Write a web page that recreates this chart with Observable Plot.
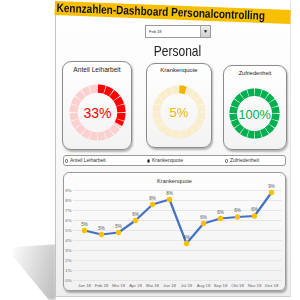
<!DOCTYPE html>
<html><head><meta charset="utf-8">
<script src="https://cdn.jsdelivr.net/npm/d3@7"></script>
<script src="https://cdn.jsdelivr.net/npm/@observablehq/plot@0.6"></script>
<style>
html,body{margin:0;padding:0;width:300px;height:300px;overflow:hidden;background:#fff;font-family:"Liberation Sans",Arial,sans-serif;}
#root{position:relative;width:300px;height:300px;}
.abs{position:absolute;}
#shadow{left:12px;top:244px;width:44px;height:56px;background:linear-gradient(105deg,rgba(235,235,235,0.1),rgba(175,175,175,0.85));clip-path:polygon(2% 6%,100% 0%,100% 100%,84% 100%,2% 22%);filter:blur(1.5px);}
#page{left:55px;top:1px;width:236px;height:296px;background:linear-gradient(to bottom,#ffffff,#f6f6f6 70%,#eeeeee);border-left:1px solid #c4c4c4;border-right:1px solid #e4e4e4;border-bottom:1px solid #cfcfcf;box-sizing:border-box;}
#titlebar{left:55px;top:1px;width:236px;height:13.5px;background:#f8c000;transform:rotate(2.2deg);transform-origin:0 0;overflow:visible;}
#titlebar span{position:absolute;left:2px;top:0px;font-weight:bold;font-size:10px;line-height:13.5px;color:#111;white-space:nowrap;transform:scaleY(1.2);transform-origin:0 50%;}
#dropdown{left:145px;top:25px;width:66px;height:13px;border:1px solid #9a9a9a;background:#fff;box-sizing:border-box;}
#dropdown .val{position:absolute;left:3px;top:3px;font-size:4px;color:#333;}
#dropdown .btn{position:absolute;right:0;top:0;width:9px;height:11px;background:linear-gradient(#eee,#cfcfcf);border-left:1px solid #aaa;font-size:5px;line-height:11px;text-align:center;color:#111;}
#heading{left:120px;width:115px;top:44px;text-align:center;font-size:12px;color:#222;transform:scaleY(1.2);}
.card{border:1px solid #8c8c8c;border-radius:9px;background:linear-gradient(#ffffff,#f3f3f3);box-shadow:1px 1.5px 2px rgba(0,0,0,0.28);box-sizing:border-box;}
.ctitle{text-align:center;color:#222;white-space:nowrap;}
.gsvg{position:absolute;}
#radiobar{left:63px;top:155px;width:223px;height:11px;border:1px solid #9a9a9a;border-radius:3px;background:#fff;box-sizing:border-box;}
.ropt{position:absolute;top:2.2px;font-size:5px;color:#333;white-space:nowrap;line-height:5.5px;}
.ropt i{display:inline-block;width:3.4px;height:3.4px;border:0.6px solid #555;border-radius:50%;vertical-align:middle;margin-right:1.5px;box-sizing:border-box;background:#fff;}
.ropt i.on{background:radial-gradient(#111 45%,#fff 55%);}
#panel{left:63px;top:172px;width:223px;height:119px;border:1px solid #9a9a9a;border-radius:6px;background:linear-gradient(#fdfdfd,#f1f1f1);box-shadow:1px 2px 2px rgba(0,0,0,0.3);box-sizing:border-box;}
#ptitle{left:63px;width:223px;top:178px;text-align:center;font-size:5.6px;color:#333;}
#chart{left:63px;top:183px;}
</style></head>
<body><div id="root"></div>
<script>
// ---- data ----
const dashboardTitle = "Kennzahlen-Dashboard Personalcontrolling";
const selectedMonth = "Feb 18";
const sectionTitle = "Personal";
const gaugeNames = ["Anteil Leiharbeit", "Krankenquote", "Zufriedenheit"];
const gaugeValues = [0.33, 0.05, 1.00];
const radioOptions = ["Anteil Leiharbeit", "Krankenquote", "Zufriedenheit"];
const selectedOption = "Krankenquote";
const chartTitle = "Krankenquote";
const months = ["Jan 18","Feb 18","Mrz 18","Apr 18","Mai 18","Jun 18","Jul 18","Aug 18","Sep 18","Okt 18","Nov 18","Dez 18"];
const krankenquote = [5.0, 4.6, 4.8, 6.0, 7.6, 8.1, 3.7, 5.7, 6.2, 6.35, 6.45, 8.8];
const yTicks = [0,1,2,3,4,5,6,7,8,9];

// ---- layout / styles ----
const gaugeLayout = [
  {card:[62,61,70,89], title:{top:8,size:6.6}, cx:97, cy:112, r:28, t:8.3, fs:14, color:"#ff0000", light:"#fdd0d0"},
  {card:[146,63,66,85], title:{top:7,size:6}, cx:178, cy:111, r:26.5, t:7.8, fs:13, color:"#f2b300", light:"#f9edcc"},
  {card:[223,65,64,85], title:{top:8,size:5.6}, cx:254, cy:113, r:25, t:7.5, fs:12.6, color:"#00b050", light:"#c8ecd6"}
];

const root = document.getElementById("root");
function el(cls, id, css, html){const d=document.createElement("div");d.className=cls;if(id)d.id=id;if(css)Object.assign(d.style,css);if(html!=null)d.innerHTML=html;root.appendChild(d);return d;}

el("abs","shadow");
el("abs","page");
const tb = el("abs","titlebar"); const ts=document.createElement("span"); ts.textContent=dashboardTitle; tb.appendChild(ts);
const dd = el("abs","dropdown");
dd.innerHTML = `<div class="val">${selectedMonth}</div><div class="btn">▼</div>`;
el("abs","heading",null,sectionTitle);

function gauge(value, g){
  const S = Math.ceil(2*g.r+4), half = S/2;
  const N = 20, gap = 0.0045, steps = 8;
  const rMid = g.r - g.t/2;
  const rows = [];
  for (let i=0;i<N;i++){
    const a0 = i/N + gap/2, a1 = (i+1)/N - gap/2;
    for (const layer of ["bg","fg"]){
      const end = layer==="bg" ? a1 : Math.min(a1, value);
      if (end <= a0) continue;
      for (let k=0;k<=steps;k++){
        const a = a0 + (end-a0)*k/steps;
        rows.push({seg:layer+i, layer, x:rMid*Math.sin(2*Math.PI*a), y:rMid*Math.cos(2*Math.PI*a)});
      }
    }
  }
  const svg = Plot.plot({
    width:S, height:S, margin:0,
    style:{background:"transparent", fontFamily:"Liberation Sans, Arial, sans-serif"},
    x:{domain:[-half,half], axis:null},
    y:{domain:[-half,half], axis:null},
    marks:[
      Plot.line(rows.filter(d=>d.layer==="bg"), {x:"x", y:"y", z:"seg", stroke:g.light, strokeWidth:g.t, strokeLinecap:"butt", strokeLinejoin:"round"}),
      Plot.line(rows.filter(d=>d.layer==="fg"), {x:"x", y:"y", z:"seg", stroke:g.color, strokeWidth:g.t, strokeLinecap:"butt", strokeLinejoin:"round"}),
      Plot.text([value], {frameAnchor:"middle", text:d=>Math.round(d*100)+"%", fill:g.color, fontSize:g.fs, dy:1})
    ]
  });
  svg.classList.add("gsvg");
  svg.style.left = (g.cx - half) + "px";
  svg.style.top = (g.cy - half) + "px";
  return svg;
}

gaugeNames.forEach((name,i)=>{
  const g = gaugeLayout[i];
  el("abs card", null, {left:g.card[0]+"px", top:g.card[1]+"px", width:g.card[2]+"px", height:g.card[3]+"px"});
  el("abs ctitle", null, {left:g.card[0]+"px", width:g.card[2]+"px", top:(g.card[1]+g.title.top-3)+"px", fontSize:g.title.size+"px"}, name);
  root.appendChild(gauge(gaugeValues[i], g));
});

const rb = el("abs","radiobar");
const roptX = [1, 83, 161];
radioOptions.forEach((o,i)=>{
  const d=document.createElement("div"); d.className="ropt"; d.style.left=roptX[i]+"px";
  d.innerHTML = `<i class="${o===selectedOption?'on':''}"></i>${o}`;
  rb.appendChild(d);
});

el("abs","panel");
el("abs","ptitle",null,chartTitle);

const chartData = months.map((m,i)=>({month:m, value:krankenquote[i]}));
const chart = Plot.plot({
  width:223, height:108,
  marginLeft:10, marginRight:4, marginTop:7, marginBottom:11,
  style:{background:"transparent", fontFamily:"Liberation Sans, Arial, sans-serif", fontSize:"4.3px", color:"#666"},
  x:{type:"point", domain:months, padding:0.64, label:null, tickSize:0, tickPadding:3},
  y:{domain:[0,9], ticks:yTicks, tickFormat:d=>d+"%", label:null, tickSize:0, tickPadding:2},
  marks:[
    Plot.ruleY(yTicks, {stroke:"#dadada", strokeWidth:0.6}),
    Plot.line(chartData, {x:"month", y:"value", stroke:"#4472c4", strokeWidth:2.2}),
    Plot.dot(chartData, {x:"month", y:"value", fill:"#ffc000", r:2.7}),
    Plot.text(chartData, {x:"month", y:"value", text:d=>Math.round(d.value)+"%", dy:-6, fontSize:4.5, fill:"#555"})
  ]
});
const cw = el("abs","chart"); cw.appendChild(chart);
</script></body></html>
